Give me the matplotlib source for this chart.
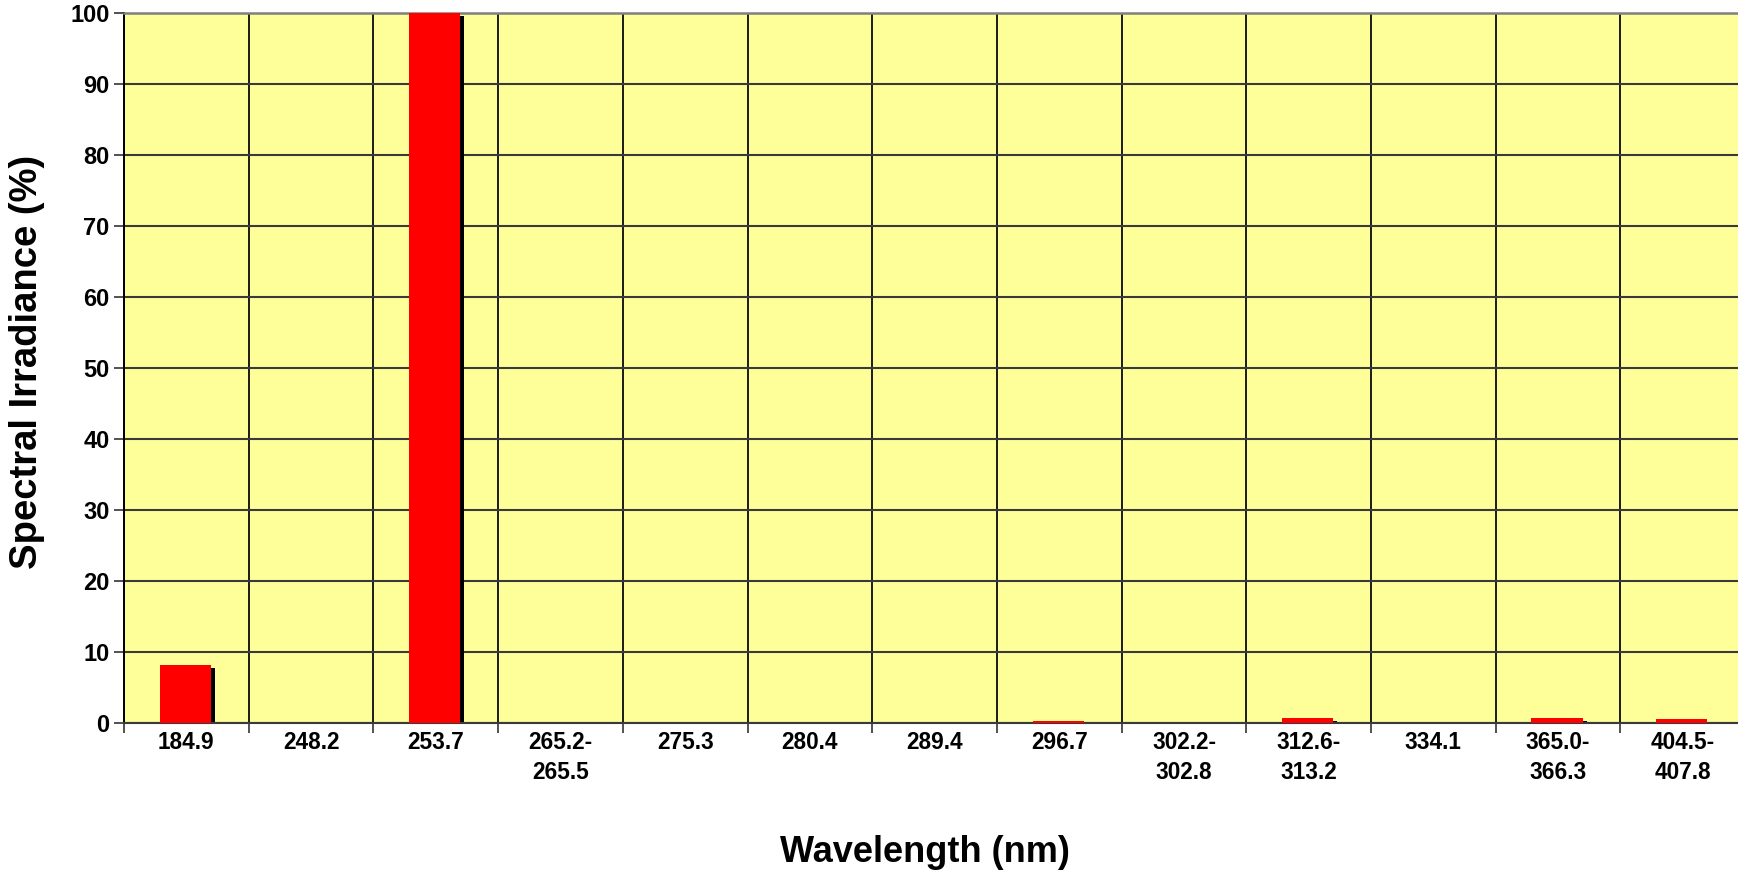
import matplotlib
matplotlib.use("Agg")
import matplotlib.pyplot as plt
import numpy as np

categories = ["184.9", "248.2", "253.7", "265.2-\n265.5", "275.3", "280.4", "289.4",
              "296.7", "302.2-\n302.8", "312.6-\n313.2", "334.1", "365.0-\n366.3", "404.5-\n407.8"]
irradiance = [8.2, 0.0, 100.0, 0.0, 0.0, 0.0, 0.0, 0.3, 0.0, 0.7, 0.0, 0.7, 0.5]
yticks = [0, 10, 20, 30, 40, 50, 60, 70, 80, 90, 100]

plt.rcParams['font.family'] = ['Liberation Sans', 'DejaVu Sans']
plt.rcParams['font.weight'] = 'bold'

W, H = 1738, 871
LEFT, TOP, BOTTOM = 124, 13, 723
SPACING = 124.7
fig = plt.figure(figsize=(W / 100, H / 100), dpi=100)
ax = fig.add_axes([LEFT / W, 1 - BOTTOM / H, 1 - LEFT / W, (BOTTOM - TOP) / H])
ax.set_facecolor('#FFFF99')

x = np.arange(len(categories))
vals = np.array(irradiance)
bw = 0.41
shift = -0.008
dx = 0.032
dy = 0.42
shadow_h = np.clip(vals - dy, 0, None)
ax.bar(x + shift + dx, shadow_h, width=bw, color='black', zorder=2, linewidth=0)
ax.bar(x + shift, vals, width=bw, color='#FF0000', zorder=3, linewidth=0)

ax.set_xlim(-0.5, -0.5 + (W - LEFT) / SPACING)
ax.set_ylim(0, 100)
ax.set_yticks(yticks)
ax.set_yticklabels([str(t) for t in yticks], fontsize=17, fontweight='bold')
ax.set_xticks(x)
ax.set_xticklabels(categories, fontsize=16.3, fontweight='bold', linespacing=1.35)
ax.tick_params(axis='x', which='major', length=0, pad=6)
bounds = np.arange(-0.5, ax.get_xlim()[1], 1.0)
ax.set_xticks(bounds, minor=True)
ax.tick_params(axis='x', which='minor', length=7, width=1.2, color='#333333')
ax.tick_params(axis='y', length=7.5, width=1.2, color='#333333', pad=3)

ax.grid(True, axis='y', which='major', color='#3a3a3a', linewidth=1.5, zorder=1)
ax.grid(True, axis='x', which='minor', color='#1a1a1a', linewidth=1.4, zorder=1)
ax.grid(False, axis='x', which='major')
ax.set_axisbelow(True)

ax.spines['right'].set_visible(False)
ax.spines['top'].set_color('#808080')
ax.spines['top'].set_linewidth(1.8)
ax.spines['left'].set_color('black')
ax.spines['left'].set_linewidth(1.4)
ax.spines['bottom'].set_color('#3a3a3a')
ax.spines['bottom'].set_linewidth(1.5)

ax.set_xlabel("Wavelength (nm)", fontsize=26, fontweight='bold')
ax.xaxis.set_label_coords((925 - LEFT) / (W - LEFT), -(852 - BOTTOM) / (BOTTOM - TOP), transform=ax.transAxes)
ax.xaxis.label.set_verticalalignment('center')
ax.set_ylabel("Spectral Irradiance (%)", fontsize=27.5, fontweight='bold')
ax.yaxis.set_label_coords(-(LEFT - 27) / (W - LEFT), (BOTTOM - 362) / (BOTTOM - TOP), transform=ax.transAxes)
ax.yaxis.label.set_verticalalignment('center')

fig.savefig("out.png", dpi=100, facecolor='white')
